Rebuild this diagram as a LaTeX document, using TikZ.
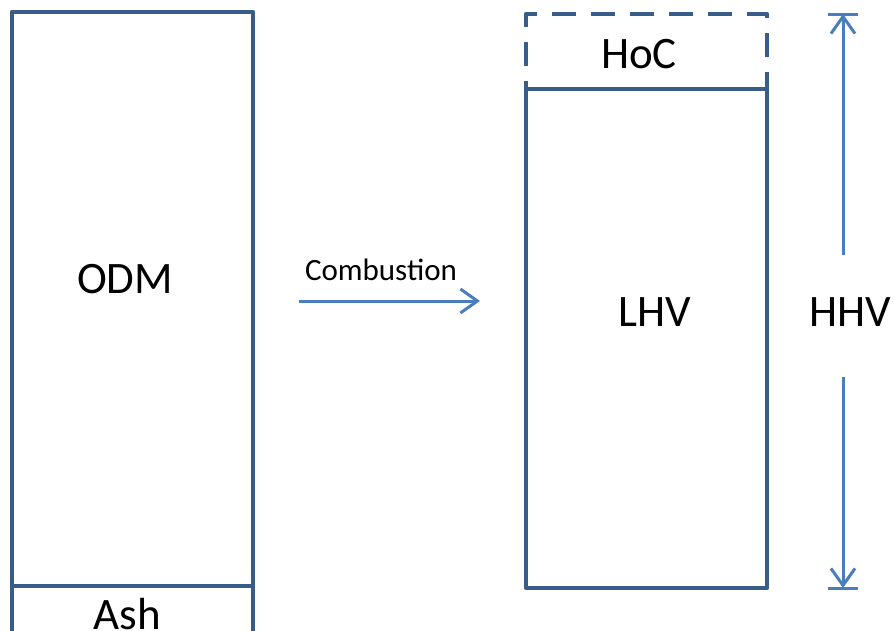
\documentclass[tikz,border=0pt]{standalone}
\usepackage{fontspec}
\setmainfont{Carlito}
\usetikzlibrary{arrows.meta}
\definecolor{boxblue}{RGB}{56,93,138}
\definecolor{arrowblue}{RGB}{74,126,187}
\tikzset{
  box/.style={draw=boxblue, line width=4.5pt, line join=round, inner sep=0pt, fill=none},
  dashbox/.style={box, dash pattern=on 24pt off 15pt},
  biglabel/.style={inner sep=0pt, anchor=base, font=\fontsize{45}{50}\selectfont},
  smalllabel/.style={inner sep=0pt, anchor=base, font=\fontsize{31}{36}\selectfont},
  flow/.style={draw=arrowblue, line width=3pt, -{Straight Barb[length=17pt,width=24pt,line width=3pt]}},
  barline/.style={draw=arrowblue, line width=3pt}
}
\begin{document}
\begin{tikzpicture}[x=1pt,y=-1pt]
\useasboundingbox (0,0) rectangle (894,630);
\clip (0,0) rectangle (894,630);
% left column
\node[box, minimum width=241pt, minimum height=574pt] (odm) at (132.5,299) {};
\node[box, minimum width=241pt, minimum height=64pt] (ash) at (132.5,618) {};
\node[biglabel] (odmlabel) at (125,293) {ODM};
\node[biglabel] (ashlabel) at (127,629) {Ash};
% combustion arrow
\coordinate (cstart) at (299,301);
\coordinate (cend) at (480,301);
\draw[flow] (cstart) -- (cend);
\node[smalllabel] (comb) at (381,280) {Combustion};
% right column
\node[dashbox, minimum width=241pt, minimum height=75pt] (hoc) at (646.5,51.5) {};
\node[box, fill=white, minimum width=241pt, minimum height=499pt] (lhv) at (646.5,338.5) {};
\node[biglabel] (hoclabel) at (639,68) {HoC};
\node[biglabel] (lhvlabel) at (655,326) {LHV};
% HHV dimension arrow
\coordinate (htop) at (843,14);
\coordinate (hbot) at (843,588);
\coordinate (hup) at (843,255);
\coordinate (hlow) at (843,377);
\draw[flow] (hup) -- (htop);
\draw[flow] (hlow) -- (hbot);
\draw[barline] ([xshift=-15pt]htop) -- ([xshift=15pt]htop);
\draw[barline] ([xshift=-15pt]hbot) -- ([xshift=15pt]hbot);
\node[biglabel] (hhvlabel) at (850,326) {HHV};
\end{tikzpicture}
\end{document}
